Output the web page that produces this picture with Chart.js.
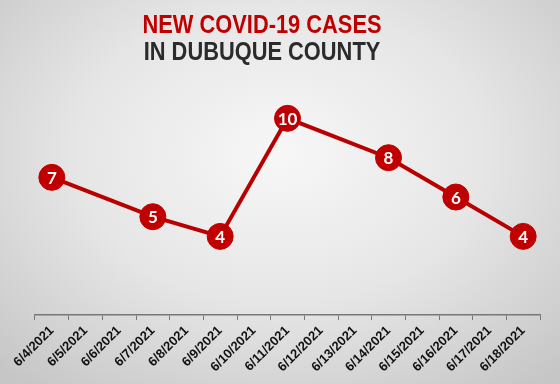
<!DOCTYPE html>
<html>
<head>
<meta charset="utf-8">
<script src="https://cdn.jsdelivr.net/npm/chart.js@4/dist/chart.umd.min.js"></script>
<style>
  html, body { margin: 0; padding: 0; }
  body {
    width: 560px; height: 384px; overflow: hidden;
    background: radial-gradient(ellipse 72% 78% at 50% 40%, #f7f7f7 0%, #e6e6e6 50%, #c6c6c6 100%);
  }
</style>
</head>
<body>
<canvas id="cases-chart" width="560" height="384"></canvas>
<script>
// Chart data
const dates = ['6/4/2021', '6/5/2021', '6/6/2021', '6/7/2021', '6/8/2021', '6/9/2021', '6/10/2021',
    '6/11/2021', '6/12/2021', '6/13/2021', '6/14/2021', '6/15/2021', '6/16/2021', '6/17/2021', '6/18/2021'];
const newCases = [7, null, null, 5, null, 4, null, 10, null, null, 8, null, 6, null, 4];
const titleLines = ['NEW COVID-19 CASES', 'IN DUBUQUE COUNTY'];
const titleColors = ['#c00000', '#2b2b2b'];

const RED = '#b80000';

// Two-line title in a condensed bold face (squeezed Liberation Sans)
const condensedTitle = {
    id: 'condensedTitle',
    afterDraw(chart) {
        const ctx = chart.ctx;
        ctx.save();
        ctx.font = 'bold 26px "Liberation Sans", Arial, sans-serif';
        ctx.textAlign = 'center';
        ctx.textBaseline = 'alphabetic';
        titleLines.forEach((line, i) => {
            ctx.save();
            ctx.translate(262, 33 + i * 27);
            ctx.scale(0.84, 1);
            ctx.fillStyle = titleColors[i];
            ctx.fillText(line, 0, 0);
            ctx.restore();
        });
        ctx.restore();
    }
};

// Write the value inside each point
const pointLabels = {
    id: 'pointLabels',
    afterDatasetsDraw(chart) {
        const ctx = chart.ctx;
        const meta = chart.getDatasetMeta(0);
        ctx.save();
        ctx.fillStyle = '#ffffff';
        ctx.font = 'bold 17px Lato, "Open Sans", sans-serif';
        ctx.textAlign = 'center';
        ctx.textBaseline = 'middle';
        meta.data.forEach((pt, i) => {
            if (newCases[i] == null) return;
            ctx.fillText(newCases[i], pt.x, pt.y + 1);
        });
        ctx.restore();
    }
};

const ctx = document.getElementById('cases-chart').getContext('2d');

const casesChart = new Chart(ctx, {
    type: 'line',
    data: {
        labels: dates,
        datasets: [{
            label: 'New cases',
            data: newCases,
            spanGaps: true,
            borderColor: RED,
            borderWidth: 4,
            backgroundColor: RED,
            pointBackgroundColor: '#c00000',
            pointBorderColor: '#c00000',
            pointBorderWidth: 1,
            pointRadius: 13,
            pointHoverRadius: 13,
            tension: 0,
        }]
    },
    options: {
        responsive: false,
        animation: false,
        layout: { padding: { left: 35, right: 20, top: 79, bottom: 6 } },
        plugins: {
            legend: { display: false },
            tooltip: { enabled: false },
            title: { display: false }
        },
        scales: {
            x: {
                offset: true,
                grid: {
                    offset: true,
                    drawOnChartArea: false,
                    drawTicks: true,
                    tickLength: 5,
                    color: '#777'
                },
                border: { display: true, color: '#777', width: 1.5 },
                ticks: {
                    color: '#111',
                    minRotation: 45,
                    maxRotation: 45,
                    autoSkip: false,
                    font: { family: '"Liberation Sans", Arial, sans-serif', size: 13, weight: 'bold' }
                }
            },
            y: {
                display: false,
                min: 0,
                max: 12
            }
        }
    },
    plugins: [pointLabels, condensedTitle]
});
</script>
</body>
</html>
